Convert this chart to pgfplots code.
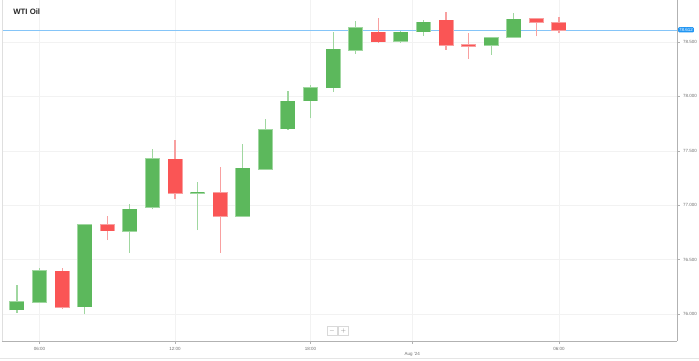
\documentclass[border=0pt]{standalone}
\usepackage{fontspec}
\setmainfont{Liberation Sans}
\usepackage{pgfplots}
\usepackage{pgfplotstable}
\pgfplotsset{compat=1.18}
\definecolor{upfill}{RGB}{92,184,92}
\definecolor{downfill}{RGB}{250,85,85}
\definecolor{upwick}{RGB}{160,215,160}
\definecolor{downwick}{RGB}{248,160,160}
\definecolor{pricebl}{RGB}{33,150,243}
\definecolor{lbl}{RGB}{110,110,110}

\pgfplotstableread{
x open high low close
0 76.040 76.267 76.012 76.113
1 76.108 76.423 76.098 76.398
3 76.067 76.820 76.000 76.818
5 76.763 77.008 76.563 76.962
6 76.983 77.514 76.962 77.427
8 77.108 77.216 76.772 77.117
10 76.901 77.560 76.900 77.339
11 77.333 77.790 77.330 77.694
12 77.703 78.052 77.694 77.955
13 77.960 78.105 77.799 78.077
14 78.080 78.589 78.043 78.433
15 78.426 78.690 78.392 78.631
17 78.506 78.601 78.494 78.589
18 78.595 78.699 78.558 78.681
21 78.470 78.540 78.381 78.537
22 78.546 78.764 78.540 78.709
}\upcandles

\pgfplotstableread{
x open high low close
2 76.392 76.423 76.049 76.062
4 76.821 76.901 76.680 76.766
7 77.422 77.597 77.054 77.109
9 77.112 77.348 76.563 76.898
16 78.589 78.718 78.494 78.503
19 78.699 78.773 78.429 78.470
20 78.475 78.585 78.347 78.463
23 78.714 78.718 78.552 78.681
24 78.675 78.733 78.580 78.612
}\downcandles

\begin{document}
\begin{tikzpicture}
\path[use as bounding box] (-2pt,-19pt) rectangle (697pt,341pt);
\begin{axis}[
  at={(0,0)}, anchor=south west,
  width=675pt, height=341pt, scale only axis,
  xmin=-0.664, xmax=29.23, ymin=75.752, ymax=78.886,
  axis x line*=bottom, axis y line*=right,
  axis line style={draw=gray!60, line width=0.8pt},
  xtick={1,7,13,24}, xticklabels={06:00,12:00,18:00,06:00},
  extra x ticks={17.5}, extra x tick labels={{Aug '24}},
  extra x tick style={xticklabel style={yshift=-5pt}},
  ytick={76,76.5,77,77.5,78,78.5},
  /pgf/number format/fixed, /pgf/number format/fixed zerofill, /pgf/number format/precision=3,
  extra y ticks={78.612}, extra y tick labels={78.612},
  extra y tick style={grid=none, major tick length=0pt,
     yticklabel style={fill=pricebl, text=white, inner sep=1pt, rounded corners=1pt, xshift=1pt}},
  grid=major, major grid style={gray!10, line width=0.5pt},
  tick align=outside, major tick length=2.5pt,
  tick style={gray!60, line width=0.5pt},
  ticklabel style={font=\fontsize{4.5}{5}\selectfont, text=lbl},
  /pgf/number format/assume math mode=true,
]
% price line
\addplot[pricebl!55, line width=0.6pt, forget plot] coordinates {(-0.664,78.612) (29.23,78.612)};
% wicks
\addplot[draw=none, mark=none, forget plot,
  error bars/.cd, y dir=plus, y explicit, error mark=none,
  error bar style={draw=upwick, line width=1.2pt}]
  table[x=x, y=low, y error plus expr=\thisrow{high}-\thisrow{low}] {\upcandles};
\addplot[draw=none, mark=none, forget plot,
  error bars/.cd, y dir=plus, y explicit, error mark=none,
  error bar style={draw=downwick, line width=1.2pt}]
  table[x=x, y=low, y error plus expr=\thisrow{high}-\thisrow{low}] {\downcandles};
% body outlines (lighter, 0.7pt larger) then fills
\addplot[draw=none, mark=none, forget plot,
  error bars/.cd, y dir=plus, y explicit, error mark=none,
  error bar style={draw=upwick, line width=15pt}]
  table[x=x, y expr=\thisrow{open}-0.0065, y error plus expr=\thisrow{close}-\thisrow{open}+0.013] {\upcandles};
\addplot[draw=none, mark=none, forget plot,
  error bars/.cd, y dir=plus, y explicit, error mark=none,
  error bar style={draw=upfill, line width=13.6pt}]
  table[x=x, y=open, y error plus expr=\thisrow{close}-\thisrow{open}] {\upcandles};
\addplot[draw=none, mark=none, forget plot,
  error bars/.cd, y dir=plus, y explicit, error mark=none,
  error bar style={draw=downwick, line width=15pt}]
  table[x=x, y expr=\thisrow{close}-0.0065, y error plus expr=\thisrow{open}-\thisrow{close}+0.013] {\downcandles};
\addplot[draw=none, mark=none, forget plot,
  error bars/.cd, y dir=plus, y explicit, error mark=none,
  error bar style={draw=downfill, line width=13.6pt}]
  table[x=x, y=close, y error plus expr=\thisrow{open}-\thisrow{close}] {\downcandles};
% decorations
\draw[gray!25, line width=0.6pt] (rel axis cs:0,0) -- (rel axis cs:0,1);
\node[anchor=west, font=\bfseries\fontsize{7.8}{9}\selectfont, text=black!85] at (rel axis cs:0.0115,0.965) {WTI Oil};
\node[draw=gray!30, fill=white, minimum width=10pt, minimum height=9pt, inner sep=0pt, font=\fontsize{6}{6}\selectfont, text=gray] at (rel axis cs:0.489,0.029) {$-$};
\node[draw=gray!30, fill=white, minimum width=10pt, minimum height=9pt, inner sep=0pt, font=\fontsize{6}{6}\selectfont, text=gray] at (rel axis cs:0.506,0.029) {$+$};
\end{axis}
\draw[gray!20, line width=0.6pt] (-2pt,-17pt) -- (697pt,-17pt);
\end{tikzpicture}
\end{document}
